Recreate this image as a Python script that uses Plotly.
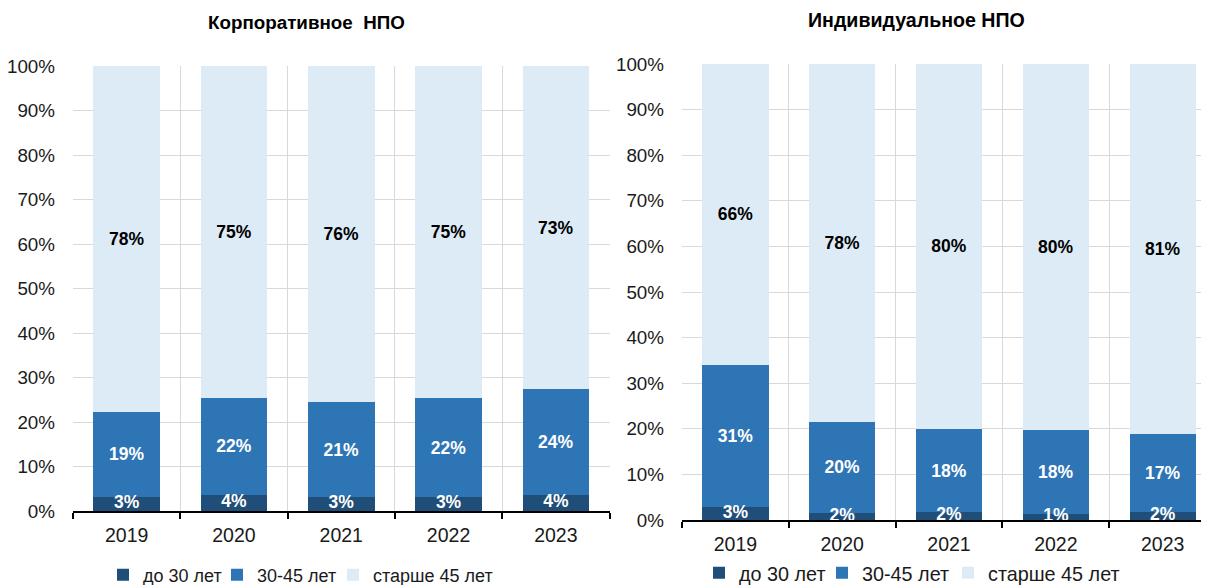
import plotly.graph_objects as go

years = ["2019", "2020", "2021", "2022", "2023"]
series_names = ["до 30 лет", "30-45 лет", "старше 45 лет"]

corp_under30 = [3.2, 3.6, 3.1, 3.1, 3.6]
corp_30_45 = [19.0, 21.8, 21.3, 22.3, 23.8]
corp_over45 = [77.8, 74.6, 75.6, 74.6, 72.6]

ind_under30 = [2.9, 1.6, 1.7, 1.3, 1.7]
ind_30_45 = [31.1, 20.0, 18.3, 18.4, 17.2]
ind_over45 = [66.0, 78.4, 80.0, 80.3, 81.1]

titles = ["Корпоративное  НПО", "Индивидуальное НПО"]
y_ticks = list(range(0, 101, 10))
y_tick_labels = [f"{v}%" for v in y_ticks]

C_DARK = "#1F4E79"
C_MID = "#2E75B6"
C_LIGHT = "#DDEBF7"
GRID = "#D9D9D9"
FONT = "Liberation Sans, Arial, sans-serif"

# page has an 8px body margin; figure sized so that it fills the 1209x585 window
OFF = 8
W, H = 1209 - OFF, 585 - OFF


def px(x):
    return (x - OFF) / W


def py(y):
    return (H - (y - OFF)) / H


fig = go.Figure()


def fmt(vals):
    return [f"{v:.0f}%" for v in vals]


LBL = dict(size=17.5, family=FONT, weight="bold")


def add_panel(xa, ya, legends, d, m, l):
    fig.add_trace(go.Bar(x=years, y=d, name=series_names[0], marker_color=C_DARK,
                         marker_line_width=0, xaxis=xa, yaxis=ya, legend=legends[0],
                         textposition="none", hoverinfo="y"))
    fig.add_trace(go.Bar(x=years, y=m, name=series_names[1], marker_color=C_MID,
                         marker_line_width=0, xaxis=xa, yaxis=ya, legend=legends[1],
                         text=fmt(m), textposition="inside", insidetextanchor="middle",
                         textangle=0, textfont=dict(color="white", **LBL)))
    fig.add_trace(go.Bar(x=years, y=l, name=series_names[2], marker_color=C_LIGHT,
                         marker_line_width=0, xaxis=xa, yaxis=ya, legend=legends[2],
                         text=fmt(l), textposition="inside", insidetextanchor="middle",
                         textangle=0, textfont=dict(color="black", **LBL)))
    fig.add_trace(go.Scatter(x=years, y=[v / 2 for v in d], mode="text", text=fmt(d),
                             textfont=dict(color="white", **LBL),
                             xaxis=xa, yaxis=ya, showlegend=False, hoverinfo="skip",
                             cliponaxis=True))


add_panel("x", "y", ["legend", "legend3", "legend4"], corp_under30, corp_30_45, corp_over45)
add_panel("x2", "y2", ["legend2", "legend5", "legend6"], ind_under30, ind_30_45, ind_over45)

xcommon = dict(type="category", tickson="boundaries", showgrid=True, gridcolor=GRID,
               gridwidth=1, showline=True, linecolor="black", linewidth=1.5,
               ticks="outside", ticklen=6, tickcolor="black", tickwidth=1.5,
               ticklabelstandoff=6,
               tickfont=dict(size=19.5, family=FONT, color="#1a1a1a"), zeroline=False,
               fixedrange=True, automargin=False)
ycommon = dict(range=[0, 100], tickvals=y_ticks, ticktext=y_tick_labels, showgrid=True,
               gridcolor=GRID, gridwidth=1, showline=False, zeroline=False, ticks="",
               ticklabelstandoff=17,
               tickfont=dict(size=18.8, family=FONT, color="#1a1a1a"), fixedrange=True,
               automargin=False)


def leg(x_text, y_center, size):
    return dict(orientation="h", xref="container", yref="container",
                x=px(x_text - 39), y=py(y_center), xanchor="left", yanchor="middle",
                font=dict(size=size, family=FONT, color="#1a1a1a"),
                bgcolor="rgba(0,0,0,0)", itemclick=False, itemdoubleclick=False)


fig.update_layout(
    width=W, height=H,
    margin=dict(l=0, r=0, t=0, b=0, autoexpand=False),
    paper_bgcolor="white", plot_bgcolor="white",
    barmode="stack", bargap=0.38,
    font=dict(family=FONT, color="#1a1a1a"),
    xaxis=dict(domain=[px(73), px(609.5)], anchor="y", range=[-0.5, 4.5], **xcommon),
    yaxis=dict(domain=[py(511), py(66)], anchor="x", **ycommon),
    xaxis2=dict(domain=[px(682), 1.0], anchor="y2", range=[-0.5, 4.434], **xcommon),
    yaxis2=dict(domain=[py(520), py(64)], anchor="x2", **ycommon),
    legend=leg(142, 575, 18),
    legend3=leg(256, 575, 18),
    legend4=leg(372, 575, 18),
    legend2=leg(738, 573, 19.8),
    legend5=leg(861, 573, 19.8),
    legend6=leg(987, 573, 19.8),
    showlegend=True,
    annotations=[
        dict(text=f"<b>{titles[0]}</b>", x=px(306), y=py(22), xref="paper", yref="paper",
             showarrow=False, font=dict(size=18.8, family=FONT, color="black"),
             xanchor="center", yanchor="middle"),
        dict(text=f"<b>{titles[1]}</b>", x=px(916.5), y=py(20), xref="paper", yref="paper",
             showarrow=False, font=dict(size=19.6, family=FONT, color="black"),
             xanchor="center", yanchor="middle"),
    ],
)

fig.write_html("out.html")
